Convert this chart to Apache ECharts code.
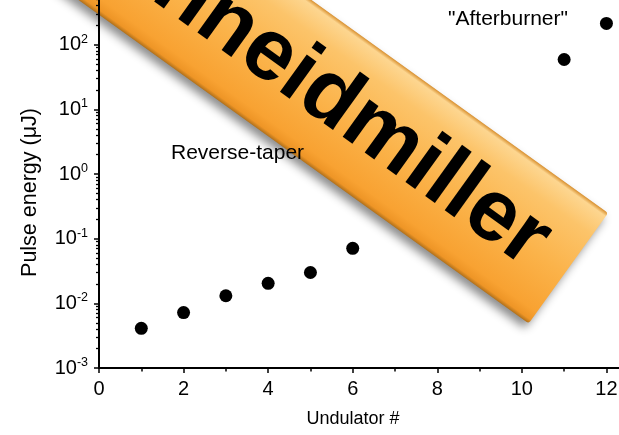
<!DOCTYPE html>
<html>
<head>
<meta charset="utf-8">
<script src="https://cdn.jsdelivr.net/npm/echarts@6/dist/echarts.min.js"></script>
<style>
html,body{margin:0;padding:0;background:#fff;}
#chart{width:619px;height:435px;}
</style>
</head>
<body>
<div id="chart"></div>
<script>
// ---- data ----
var undulators = [1, 2, 3, 4, 5, 6, 11, 12];
var pulseEnergy = [0.0041, 0.0072, 0.0131, 0.0204, 0.030, 0.071, 59, 213];
var yMajorTicks = [0.001, 0.01, 0.1, 1, 10, 100, 1000];
var yMinorMultipliers = [2, 3, 4, 5, 6, 7, 8, 9];
var xTickInterval = 2;
var annotations = ['Reverse-taper', '"Afterburner"'];
var bannerText = 'Schneidmiller';

var yMinorTicks = [];
yMajorTicks.slice(0, -1).forEach(function (d) {
  yMinorMultipliers.forEach(function (m) { yMinorTicks.push(+(d * m).toPrecision(3)); });
});

var FONT = '"Liberation Sans", Arial, Helvetica, sans-serif';
var chart = echarts.init(document.getElementById('chart'), null, {renderer: 'canvas'});

var deg = 35.7 * Math.PI / 180;

var option = {
  backgroundColor: '#ffffff',
  animation: false,
  grid: {left: 99, right: -72, top: -20, bottom: 67, containLabel: false, outerBoundsMode: 'none'},
  xAxis: {
    type: 'value', min: 0, max: 14, interval: xTickInterval,
    name: 'Undulator #', nameLocation: 'middle', nameGap: 42,
    nameTextStyle: {fontSize: 18, color: '#000', fontFamily: FONT, padding: [0, 84, 0, 0]},
    axisLine: {show: true, lineStyle: {color: '#000', width: 2}},
    axisTick: {show: true, length: 5, lineStyle: {color: '#000', width: 1.5}},
    minorTick: {show: true, splitNumber: 2, length: 3.5, lineStyle: {color: '#000', width: 1.5}},
    splitLine: {show: false}, minorSplitLine: {show: false},
    axisLabel: {fontSize: 20, color: '#000', margin: 11, fontFamily: FONT}
  },
  yAxis: [{
    type: 'log', logBase: 10, min: 0.001, max: 1000,
    name: 'Pulse energy (\u03bcJ)', nameLocation: 'middle', nameGap: 58,
    nameTextStyle: {fontSize: 21.5, color: '#000', fontFamily: FONT, padding: [0, 37, 0, 0]},
    axisLine: {show: true, lineStyle: {color: '#000', width: 2}},
    axisTick: {show: true, length: 5, customValues: yMajorTicks, lineStyle: {color: '#000', width: 1.5}},
    splitLine: {show: false},
    axisLabel: {
      customValues: yMajorTicks, margin: 11,
      formatter: function (v) {
        var e = Math.round(Math.log10(v));
        return '{b|10}{s|' + (e < 0 ? '-' + (-e) : e) + '}';
      },
      rich: {
        b: {fontSize: 20, color: '#000', fontFamily: FONT, lineHeight: 24},
        s: {fontSize: 12.5, color: '#000', fontFamily: FONT, verticalAlign: 'top', lineHeight: 14}
      }
    }
  }, {
    type: 'log', logBase: 10, min: 0.001, max: 1000, position: 'left',
    axisLine: {show: false},
    axisTick: {show: true, length: 3, customValues: yMinorTicks, lineStyle: {color: '#000', width: 1.3}},
    axisLabel: {show: false},
    splitLine: {show: false}
  }],
  series: [{
    type: 'scatter', xAxisIndex: 0, yAxisIndex: 0,
    symbol: 'circle', symbolSize: 13,
    itemStyle: {color: '#000', opacity: 1},
    data: undulators.map(function (x, i) { return [x, pulseEnergy[i]]; })
  }],
  graphic: [
    {type: 'text', x: 171, y: 153, z: 10, style: {text: annotations[0], fontSize: 21, fontFamily: FONT, fill: '#000', align: 'left', verticalAlign: 'middle'}},
    {type: 'text', x: 448, y: 19, z: 10, style: {text: annotations[1], fontSize: 21, fontFamily: FONT, fill: '#000', align: 'left', verticalAlign: 'middle'}},
    {
      type: 'group', x: 569, y: 267.5, rotation: -deg, z: 100,
      children: [
        {
          type: 'rect', shape: {x: -900, y: -67, width: 900, height: 136, r: 3},
          style: {
            fill: new echarts.graphic.LinearGradient(0, 0, 0, 1, [
              {offset: 0, color: '#d89030'},
              {offset: 0.03, color: '#fdd690'},
              {offset: 0.2, color: '#fcc46a'},
              {offset: 0.55, color: '#fbb34a'},
              {offset: 0.9, color: '#f8a232'},
              {offset: 0.97, color: '#ee9526'},
              {offset: 1, color: '#b0701a'}
            ]),
            shadowBlur: 10, shadowColor: 'rgba(0,0,0,0.45)', shadowOffsetX: -4, shadowOffsetY: 5
          }
        },
        {
          type: 'text', x: -34, y: 2,
          style: {text: bannerText, fontSize: 87, fontWeight: 'bold', fontFamily: FONT, fill: '#000', align: 'right', verticalAlign: 'middle'}
        }
      ]
    }
  ]
};
chart.setOption(option);
</script>
</body>
</html>
